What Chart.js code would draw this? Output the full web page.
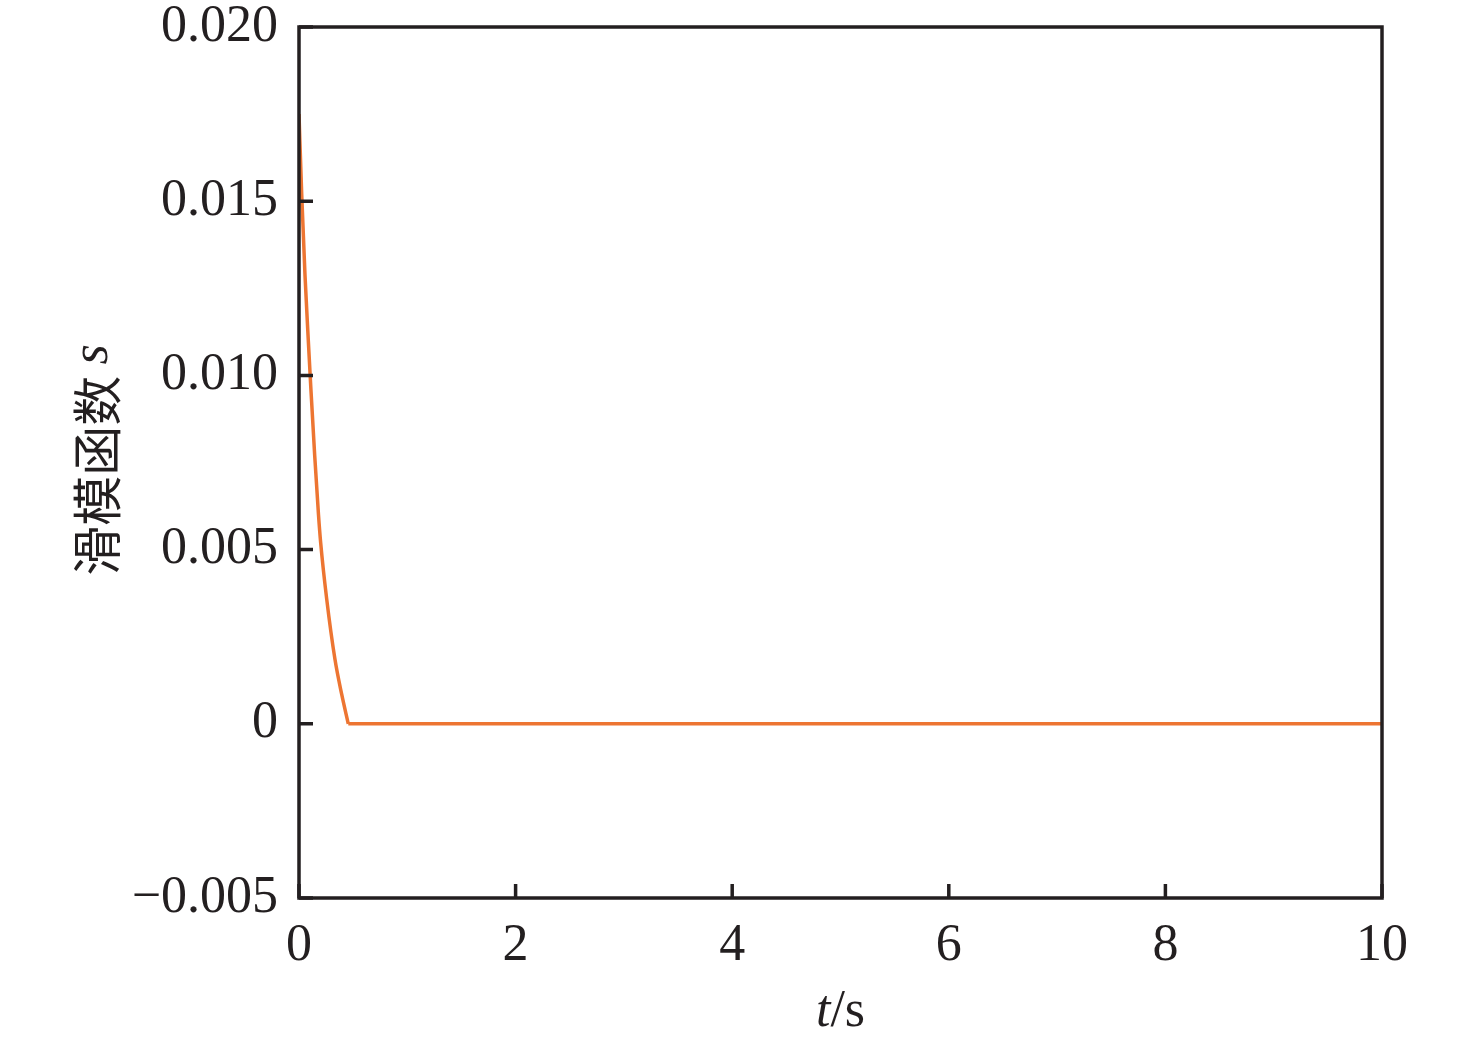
<!DOCTYPE html>
<html>
<head>
<meta charset="utf-8">
<script src="https://cdn.jsdelivr.net/npm/chart.js@4.4.1/dist/chart.umd.min.js"></script>
<style>
    html, body { margin: 0; padding: 0; background: #fff; }
    #wrap { width: 1476px; height: 1043px; }
</style>
</head>
<body>
<div id="wrap"><canvas id="slideChart" width="1476" height="1043"></canvas></div>
<script>
// ==================== DATA ====================
const timeValues = [0, 0.025, 0.055, 0.086, 0.11, 0.145, 0.18, 0.2, 0.255, 0.332, 0.394, 0.455, 1, 2, 3, 4, 5, 6, 7, 8, 9, 10];
const sValues = [0.0175, 0.0152, 0.0129, 0.011, 0.0096, 0.0077, 0.006, 0.0052, 0.0036, 0.00185, 0.00085, 0, 0, 0, 0, 0, 0, 0, 0, 0, 0, 0];

const xTicks = [0, 2, 4, 6, 8, 10];
const yTicks = [-0.005, 0, 0.005, 0.010, 0.015, 0.020];
const yTickLabels = ['\u22120.005', '0', '0.005', '0.010', '0.015', '0.020'];

const axisColor = '#231f20';
const lineColor = '#ed7532';
const serif = '"Liberation Serif", "DejaVu Serif", serif';

// split the series where it reaches zero, so the corner stays sharp
const points = timeValues.map((t, i) => ({ x: t, y: sValues[i] }));
const zeroIdx = sValues.indexOf(0);
const decayPoints = points.slice(0, zeroIdx + 1);
const flatPoints = points.slice(zeroIdx);

// ==================== PLUGINS ====================
// frame + inward tick marks
const framePlugin = {
    id: 'frame',
    afterDatasetsDraw(chart) {
        const { ctx, chartArea: a, scales } = chart;
        ctx.save();
        ctx.strokeStyle = axisColor;
        ctx.lineWidth = 3.5;
        ctx.strokeRect(a.left, a.top, a.right - a.left, a.bottom - a.top);
        ctx.beginPath();
        xTicks.forEach(v => {
            const px = scales.x.getPixelForValue(v);
            ctx.moveTo(px, a.bottom);
            ctx.lineTo(px, a.bottom - 14);
        });
        yTicks.forEach(v => {
            const py = scales.y.getPixelForValue(v);
            ctx.moveTo(a.left, py);
            ctx.lineTo(a.left + 14, py);
        });
        ctx.stroke();
        ctx.restore();
    }
};

// axis titles (mixed italic / upright text)
const titlePlugin = {
    id: 'titles',
    afterDraw(chart) {
        const { ctx, chartArea: a } = chart;
        ctx.save();
        ctx.fillStyle = axisColor;
        ctx.textBaseline = 'middle';

        // x title: t/s
        const italic = 'italic 52px ' + serif;
        const upright = '52px ' + serif;
        ctx.font = italic;
        const wT = ctx.measureText('t').width;
        ctx.font = upright;
        const wS = ctx.measureText('/s').width;
        const cx = (a.left + a.right) / 2;
        const x0 = cx - (wT + wS) / 2;
        ctx.textAlign = 'left';
        ctx.font = italic;
        ctx.fillText('t', x0, 1012);
        ctx.font = upright;
        ctx.fillText('/s', x0 + wT, 1012);

        // y title: 滑模函数 s
        ctx.translate(97, 460);
        ctx.rotate(-Math.PI / 2);
        const cjk = '50px "Noto Sans CJK SC", sans-serif';
        const sIt = 'italic 52px ' + serif;
        ctx.font = cjk;
        const wC = ctx.measureText('滑模函数 ').width;
        ctx.font = sIt;
        const wY = ctx.measureText('s').width;
        const y0 = -(wC + wY) / 2;
        ctx.font = cjk;
        ctx.fillText('滑模函数 ', y0, 0);
        ctx.font = sIt;
        ctx.fillText('s', y0 + wC, -4);
        ctx.restore();
    }
};

// ==================== CHART ====================
const ctx = document.getElementById('slideChart').getContext('2d');

new Chart(ctx, {
    type: 'line',
    data: {
        datasets: [
            {
                label: 's',
                data: decayPoints,
                borderColor: lineColor,
                borderWidth: 3.5,
                pointRadius: 0,
                fill: false,
                cubicInterpolationMode: 'monotone',
            },
            {
                label: 's (flat)',
                data: flatPoints,
                borderColor: lineColor,
                borderWidth: 3.5,
                pointRadius: 0,
                fill: false,
                tension: 0,
            }
        ]
    },
    options: {
        responsive: false,
        animation: false,
        layout: { padding: { top: 27, right: 94, left: 0, bottom: 0 } },
        plugins: {
            legend: { display: false },
            tooltip: { enabled: false }
        },
        scales: {
            x: {
                type: 'linear',
                min: 0,
                max: 10,
                afterFit: s => { s.height = 145; },
                afterBuildTicks: s => { s.ticks = xTicks.map(v => ({ value: v })); },
                grid: { display: false },
                border: { display: false },
                ticks: {
                    color: axisColor,
                    font: { family: serif, size: 52 },
                    padding: 9,
                    maxRotation: 0,
                    callback: v => String(v)
                }
            },
            y: {
                type: 'linear',
                min: -0.005,
                max: 0.020,
                afterFit: s => { s.width = 299; },
                afterBuildTicks: s => { s.ticks = yTicks.map(v => ({ value: v })); },
                grid: { display: false },
                border: { display: false },
                ticks: {
                    color: axisColor,
                    font: { family: serif, size: 52, lineHeight: 0.4 },
                    padding: 13,
                    callback: v => {
                        const i = yTicks.findIndex(t => Math.abs(t - v) < 1e-9);
                        return i >= 0 ? yTickLabels[i] : '';
                    }
                }
            }
        }
    },
    plugins: [framePlugin, titlePlugin]
});
</script>
</body>
</html>
